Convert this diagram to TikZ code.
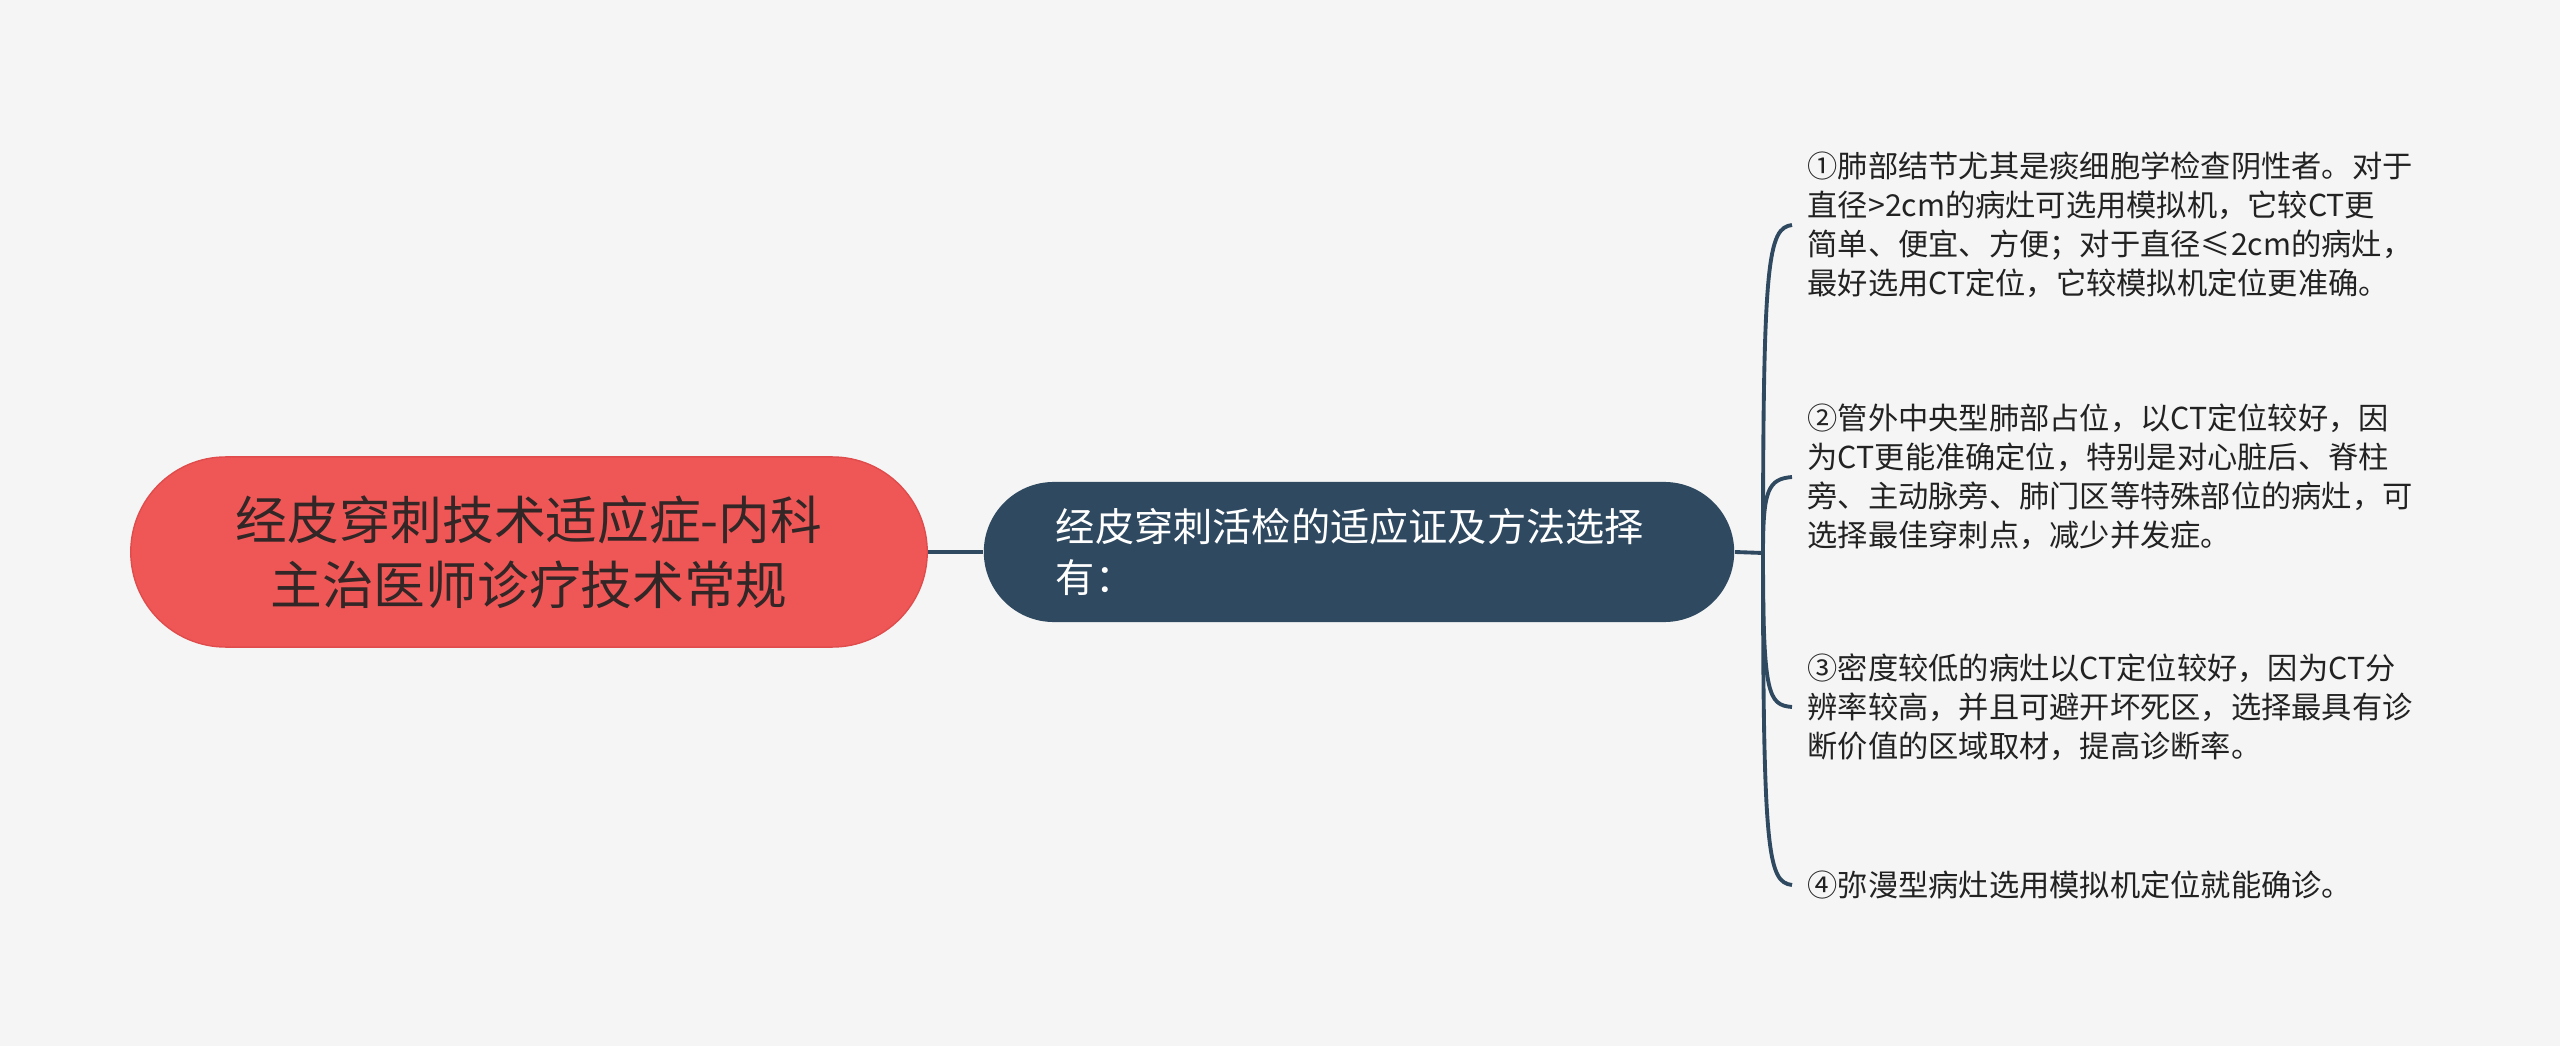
\documentclass[tikz,border=0pt]{standalone}
\usepackage{fontspec}
\setmainfont{Noto Sans CJK SC}
\usetikzlibrary{positioning}
\definecolor{bgpaper}{RGB}{245,245,245}
\definecolor{rootred}{RGB}{239,87,87}
\definecolor{rootedge}{RGB}{224,76,76}
\definecolor{navy}{RGB}{47,73,96}
\definecolor{inkdark}{RGB}{51,38,38}
\definecolor{leafink}{RGB}{34,34,34}

\begin{document}
\begin{tikzpicture}[x=0.01cm,y=-0.01cm,
  link/.style={draw=navy,line width=1.1pt},
  leafnote/.style={anchor=west,align=left,inner xsep=0.15cm,inner ysep=0.1cm,text=leafink,font=\fontsize{8.6}{11.1}\selectfont}]
\fill[bgpaper] (0,0) rectangle (2560,1046);
\node[fill=rootred,draw=rootedge,rounded corners=0.95cm,minimum width=7.96cm,minimum height=1.9cm,align=center,text=inkdark,font=\fontsize{14.7}{18.5}\selectfont] (root) at (529,552) {经皮穿刺技术适应症-内科\\主治医师诊疗技术常规};
\node[fill=navy,rounded corners=0.7cm,minimum height=1.4cm,text width=6.06cm,inner xsep=0.72cm,align=left,text=white,font=\fontsize{11.15}{14.4}\selectfont] (topic) at (1359,552) {经皮穿刺活检的适应证及方法选择\\有：};
\coordinate (hub) at (1763,553);
\draw[link] (root) -- (topic); \draw[link] (topic.east) -- (hub);
% leaves
\node[leafnote] (leafA) at (1792,225) {①肺部结节尤其是痰细胞学检查阴性者。对于\\直径>2cm的病灶可选用模拟机，它较CT更\\简单、便宜、方便；对于直径≤2cm的病灶，\\最好选用CT定位，它较模拟机定位更准确。};
\node[leafnote] (leafB) at (1792,477) {②管外中央型肺部占位，以CT定位较好，因\\为CT更能准确定位，特别是对心脏后、脊柱\\旁、主动脉旁、肺门区等特殊部位的病灶，可\\选择最佳穿刺点，减少并发症。};
\node[leafnote] (leafC) at (1792,707) {③密度较低的病灶以CT定位较好，因为CT分\\辨率较高，并且可避开坏死区，选择最具有诊\\断价值的区域取材，提高诊断率。};
\node[leafnote] (leafD) at (1792,885) {④弥漫型病灶选用模拟机定位就能确诊。};
\draw[link] (hub) .. controls (1763,260) and (1768,228) .. (leafA.west);
\draw[link] (hub) .. controls (1763,490) and (1768,479) .. (leafB.west);
\draw[link] (hub) .. controls (1763,695) and (1768,705) .. (leafC.west);
\draw[link] (hub) .. controls (1763,855) and (1768,882) .. (leafD.west);
\end{tikzpicture}
\end{document}
